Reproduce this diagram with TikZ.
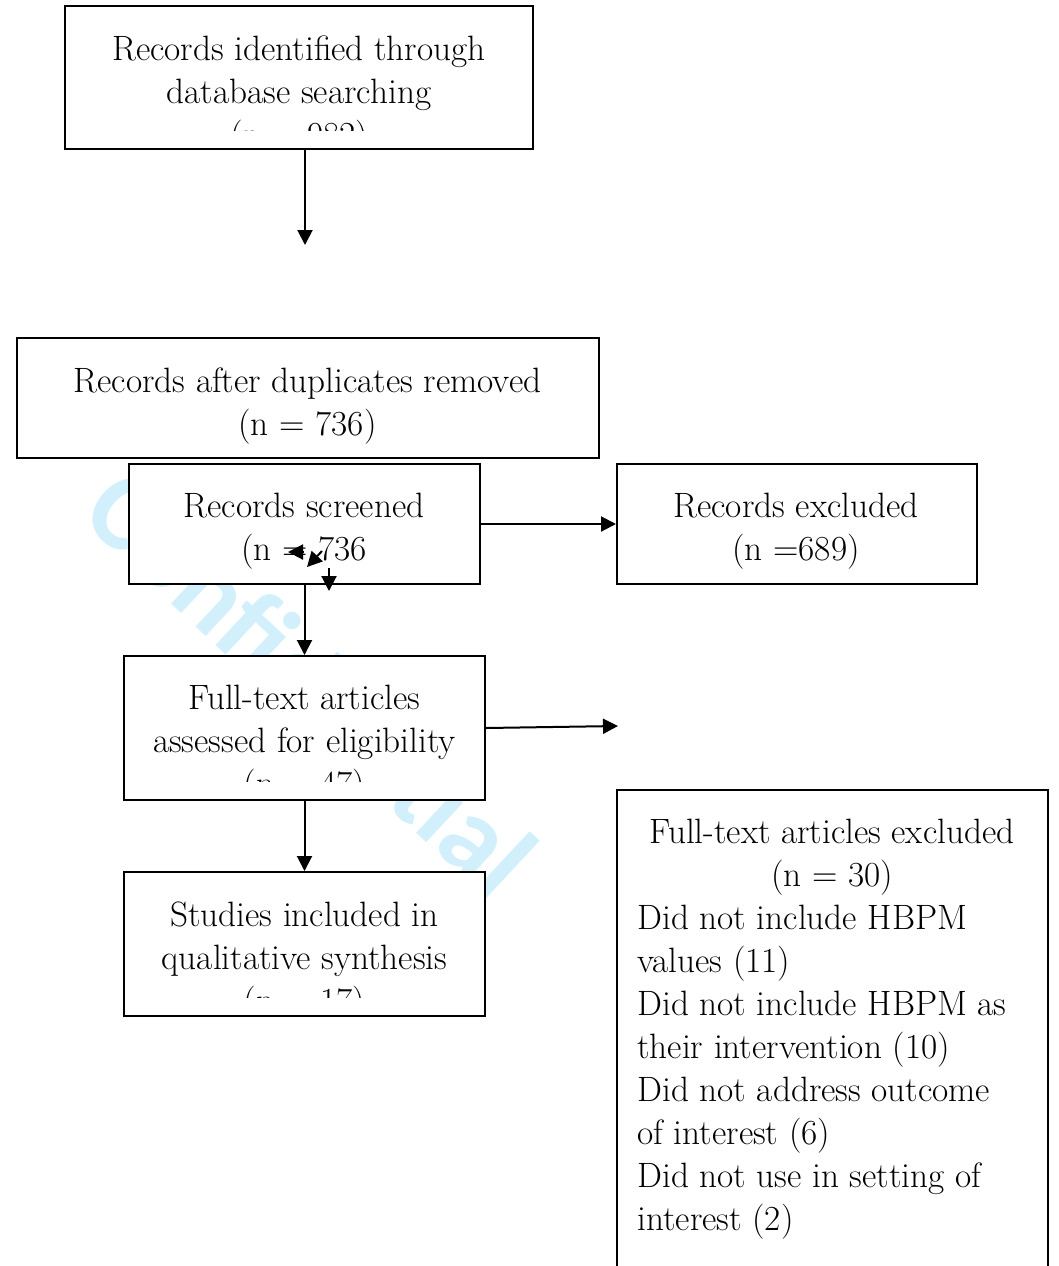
\documentclass[tikz,border=0pt]{standalone}
\usepackage{fontspec}
\newfontfamily\wmfont{Carlito}
\usetikzlibrary{arrows.meta}
\definecolor{wmark}{RGB}{210,240,252}
\tikzset{box/.style={draw,line width=1pt,fill=white,inner sep=0pt},
txt/.style={align=center,inner sep=0pt,font=\fontsize{17.6}{21.5}\selectfont},
arr/.style={line width=1pt,-{Triangle[length=7.5pt,width=7.5pt]}},
wm/.style={rotate=-43,text=wmark,inner sep=0pt,font=\wmfont\bfseries\fontsize{56}{56}\selectfont}}

\begin{document}
\begin{tikzpicture}[x=0.5pt,y=-0.5pt]
\useasboundingbox(0,0)rectangle(1059,1266);
\clip(0,0)rectangle(1059,1266);
\node[wm](wm)at(312,682){Confidential};
\node[box,minimum width=234pt,minimum height=71.5pt](ident)at(299,77.5){};
\begin{scope}\clip(ident.north west)rectangle([yshift=10pt]ident.south east);
\node[txt,anchor=north](identtxt)at(299,35){Records identified through\\database searching\\(n = 982)};
\end{scope}
\node[box,minimum width=291pt,minimum height=60pt](dupl)at(308,398){};
\node[txt,anchor=north](dupltxt)at(307.5,367){Records after duplicates removed\\(n = 736)};
\node[box,minimum width=175.5pt,minimum height=60pt](screen)at(304.5,524){};
\node[txt,anchor=north](screentxt)at(304,493){Records screened\\(n = 736};
\node[box,minimum width=180pt,minimum height=60pt](excl)at(797,524){};
\node[txt,anchor=north](excltxt)at(796,493){Records excluded\\(n =689)};
\node[box,minimum width=180.5pt,minimum height=72pt](full)at(304.5,728){};
\begin{scope}\clip(full.north west)rectangle([yshift=10pt]full.south east);
\node[txt,anchor=north](fulltxt)at(304.5,685){Full-text articles\\assessed for eligibility\\(n = 47)};
\end{scope}
\node[box,minimum width=180.5pt,minimum height=72pt](incl)at(304.5,944){};
\begin{scope}\clip(incl.north west)rectangle([yshift=10pt]incl.south east);
\node[txt,anchor=north](incltxt)at(304.5,901){Studies included in\\qualitative synthesis\\(n = 17)};
\end{scope}
\node[box,minimum width=215.5pt,minimum height=255pt](fullex)at(832.5,1045){};
\node[txt,anchor=north](fullextxt)at(832,819){Full-text articles excluded\\(n = 30)};
\node[txt,align=left,anchor=north west](reasons)at(637,905){Did not include HBPM\\values (11)\\Did not include HBPM as\\their intervention (10)\\Did not address outcome\\of interest (6)\\Did not use in setting of\\interest (2)};
\coordinate(dupin)at(305,245);
\coordinate(fullout)at(618,726);
\draw[arr](ident.south-|dupin)--(dupin);
\draw[arr](screen.south)--(full.north);
\draw[arr](screen.east)--(excl.west);
\draw[arr](full.east)--(fullout);
\draw[arr](full.south)--(incl.north);
\coordinate(s1)at(304,552);\coordinate(s2)at(288,552);
\coordinate(s3)at(322,551);\coordinate(s4)at(307,567);
\coordinate(s5)at(329,568);\coordinate(s6)at(329,591);
\draw[arr](s1)--(s2);
\draw[arr](s3)--(s4);
\draw[arr](s5)--(s6);
\end{tikzpicture}
\end{document}
